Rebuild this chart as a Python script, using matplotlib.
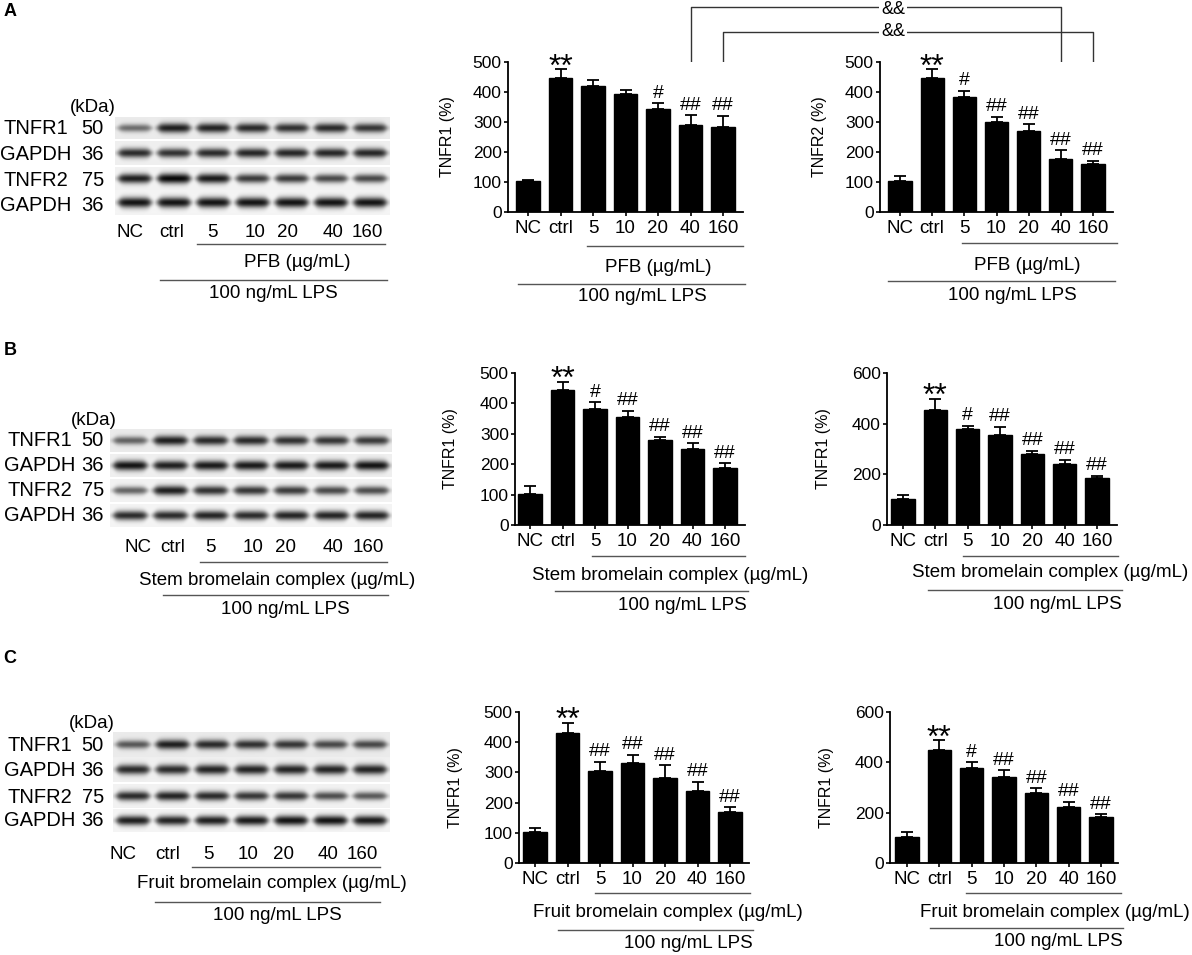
import numpy as np
import matplotlib
matplotlib.use("Agg")
import matplotlib.pyplot as plt

plt.rcParams['font.family'] = ['Liberation Sans', 'DejaVu Sans']

W, H = 1192, 955

# ---------------- data ----------------
groups = ["NC", "ctrl", "5", "10", "20", "40", "160"]

a1_mean = [103, 447, 420, 392, 342, 291, 282]
a1_err = [4, 29, 19, 16, 20, 32, 38]
a1_sig = ["", "**", "", "", "#", "##", "##"]

a2_mean = [102, 447, 384, 300, 270, 178, 160]
a2_err = [18, 29, 20, 17, 22, 27, 11]
a2_sig = ["", "**", "#", "##", "##", "##", "##"]

b1_mean = [102, 445, 381, 354, 279, 251, 189]
b1_err = [27, 25, 22, 22, 12, 18, 14]
b1_sig = ["", "**", "#", "##", "##", "##", "##"]

b2_mean = [101, 452, 378, 355, 280, 240, 185]
b2_err = [18, 46, 14, 33, 13, 17, 9]
b2_sig = ["", "**", "#", "##", "##", "##", "##"]

c1_mean = [102, 429, 304, 330, 282, 238, 170]
c1_err = [13, 36, 31, 29, 42, 31, 14]
c1_sig = ["", "**", "##", "##", "##", "##", "##"]

c2_mean = [103, 450, 376, 340, 277, 223, 182]
c2_err = [20, 38, 24, 28, 20, 21, 12]
c2_sig = ["", "**", "#", "##", "##", "##", "##"]

blot_rows = ["TNFR1", "GAPDH", "TNFR2", "GAPDH"]
blot_kda = ["50", "36", "75", "36"]

# relative band darkness read from the blots (rows x lanes)
blot_a = [[0.55, 0.90, 0.88, 0.85, 0.82, 0.85, 0.80],
          [0.85, 0.82, 0.85, 0.87, 0.87, 0.87, 0.87],
          [0.90, 1.00, 0.92, 0.78, 0.78, 0.72, 0.72],
          [0.95, 0.95, 0.95, 0.95, 0.95, 0.95, 0.95]]
blot_b = [[0.60, 0.90, 0.85, 0.85, 0.82, 0.80, 0.78],
          [0.95, 0.90, 0.92, 0.92, 0.92, 0.92, 0.95],
          [0.60, 0.90, 0.82, 0.80, 0.78, 0.72, 0.70],
          [0.85, 0.85, 0.88, 0.85, 0.88, 0.88, 0.88]]
blot_c = [[0.65, 0.90, 0.85, 0.82, 0.80, 0.72, 0.72],
          [0.85, 0.85, 0.88, 0.88, 0.88, 0.88, 0.88],
          [0.85, 0.88, 0.85, 0.80, 0.80, 0.70, 0.65],
          [0.90, 0.88, 0.90, 0.92, 0.95, 0.95, 0.92]]

treat_a = "PFB (µg/mL)"
treat_b = "Stem bromelain complex (µg/mL)"
treat_c = "Fruit bromelain complex (µg/mL)"
lps_label = "100 ng/mL LPS"

# ---------------- figure ----------------
fig = plt.figure(figsize=(W / 100, H / 100), dpi=100)
ax0 = fig.add_axes([0, 0, 1, 1])
ax0.set_zorder(0)
ax0.axis('off')

LINE_C = '#555555'


def render_strip(x0, x1, y0, y1, inten, bg):
    nx = int((x1 - x0) * 3)
    ny = int((y1 - y0) * 3)
    xs = np.linspace(x0, x1, nx)
    ys = np.linspace(y0, y1, ny)
    X, Y = np.meshgrid(xs, ys)
    step = (x1 - x0) / 7
    yc = (y0 + y1) / 2
    dark = np.zeros_like(X)
    for i, v in enumerate(inten):
        c = x0 + (i + 0.5) * step
        hw = 0.41 * step
        hprof = 1 / (1 + np.exp((np.abs(X - c) - hw) / 1.8))
        sig = (1.8 + 1.9 * v) * (0.5 + 0.5 * hprof)
        vprof = np.exp(-0.5 * ((Y - yc) / sig) ** 2)
        dark = np.maximum(dark, v * hprof * vprof)
    return bg - dark * (bg - 0.03)


def draw_blot(spec, inten):
    x0, x1 = spec['x']
    bgs = [0.92, 0.94, 0.95, 0.96]
    for r, (yt, yb) in enumerate(spec['rows']):
        img = render_strip(x0, x1, yt, yb, inten[r], bgs[r])
        ax0.imshow(img, cmap='gray', vmin=0, vmax=1, extent=(x0, x1, yb, yt),
                   aspect='auto', interpolation='bilinear', zorder=1)
        yc = spec['label_y'][r]
        ax0.text(spec['name_x'][r], yc, blot_rows[r], ha='left', va='center', fontsize=14.5)
        ax0.text(104, yc, blot_kda[r], ha='right', va='center', fontsize=14.5)
    ax0.text(spec['kda'][0], spec['kda'][1], "(kDa)", ha='right', va='center', fontsize=13.5)
    for lx, g in zip(spec['lane_x'], groups):
        ax0.text(lx, spec['lane_y'], g, ha='center', va='center', fontsize=13.5)
    ax0.plot(spec['line1'][:2], [spec['line1'][2]] * 2, color=LINE_C, lw=1)
    ax0.text(spec['treat'][0], spec['treat'][1], spec['treat_label'], ha='center', va='center', fontsize=13.5)
    ax0.plot(spec['line2'][:2], [spec['line2'][2]] * 2, color=LINE_C, lw=1)
    ax0.text(spec['lps'][0], spec['lps'][1], lps_label, ha='center', va='center', fontsize=13.5)


blot_specs = [
    dict(x=(115, 390), rows=[(117, 139), (141, 165), (167, 190), (191, 215)],
         label_y=[128, 155, 180, 205], name_x=[3, 0, 3, 0], kda=(116, 108),
         lane_x=[130, 172, 212, 255, 287, 333, 367], lane_y=232,
         line1=(197, 385, 244), treat=(297, 262), treat_label=treat_a,
         line2=(160, 387, 280), lps=(273, 293)),
    dict(x=(110, 392), rows=[(429, 452), (454, 477), (479, 502), (504, 527)],
         label_y=[440, 465, 490, 515], name_x=[7, 4, 7, 4], kda=(117, 420),
         lane_x=[138, 173, 210, 253, 285, 333, 368], lane_y=547,
         line1=(200, 387, 562), treat=(277, 580), treat_label=treat_b,
         line2=(163, 388, 595), lps=(285, 609)),
    dict(x=(113, 390), rows=[(732, 757), (758, 782), (784, 808), (809, 832)],
         label_y=[745, 770, 797, 820], name_x=[7, 4, 7, 4], kda=(115, 723),
         lane_x=[123, 168, 208, 248, 283, 328, 362], lane_y=854,
         line1=(192, 380, 867), treat=(272, 883), treat_label=treat_c,
         line2=(155, 380, 902), lps=(277, 915)),
]
for spec, inten in zip(blot_specs, [blot_a, blot_b, blot_c]):
    draw_blot(spec, inten)


def bar_chart(lay, mean, err, sig, ylabel, treat_label):
    l, r, b, t = lay['box']
    ax = fig.add_axes([l / W, 1 - b / H, (r - l) / W, (b - t) / H])
    ax.set_zorder(2)
    first, last = lay['centers']
    s = (last - first) / 6
    x = np.arange(len(groups))
    ax.bar(x, mean, width=0.72, color='black', edgecolor='black',
           yerr=[np.zeros(len(err)), err], capsize=4.5,
           error_kw=dict(elinewidth=1.3, capthick=1.3, ecolor='black'))
    ax.set_xlim(-(first - l) / s, 6 + (r - last) / s)
    ax.set_ylim(0, lay['ymax'])
    ax.set_yticks(np.arange(0, lay['ymax'] + 1, lay['ystep']))
    ax.set_xticks(x)
    ax.set_xticklabels(groups)
    for sp in ['top', 'right']:
        ax.spines[sp].set_visible(False)
    for sp in ['left', 'bottom']:
        ax.spines[sp].set_linewidth(1.3)
    ax.tick_params(axis='y', direction='out', length=3, width=1.2, pad=1.5, labelsize=12.5)
    ax.tick_params(axis='x', direction='out', length=3, width=1.2, pad=3, labelsize=13.5)
    ax.set_ylabel(ylabel, fontsize=11.5)
    ax.yaxis.set_label_coords((lay['labelx'] - l) / (r - l), 0.5)
    for i, sg in enumerate(sig):
        top = mean[i] + err[i]
        if sg == "**":
            ax.annotate(sg, (i, top), xytext=(0, -4.5), textcoords='offset points',
                        ha='center', va='baseline', fontsize=23, annotation_clip=False)
        elif sg:
            ax.annotate(sg, (i, top), xytext=(0, 4.0), textcoords='offset points',
                        ha='center', va='baseline', fontsize=14, annotation_clip=False)
    ax0.plot(lay['line1'][:2], [lay['line1'][2]] * 2, color=LINE_C, lw=1)
    ax0.text(lay['treat'][0], lay['treat'][1], treat_label, ha='center', va='center', fontsize=13.5)
    ax0.plot(lay['line2'][:2], [lay['line2'][2]] * 2, color=LINE_C, lw=1)
    ax0.text(lay['lps'][0], lay['lps'][1], lps_label, ha='center', va='center', fontsize=13.5)
    return ax


layouts = {
    'a1': dict(box=(508, 743, 212, 62), centers=(528, 723), ymax=500, ystep=100, labelx=455,
               line1=(587, 743, 246), treat=(658, 267), line2=(518, 745, 284), lps=(642, 296)),
    'a2': dict(box=(880, 1113, 212, 62), centers=(900, 1093), ymax=500, ystep=100, labelx=827,
               line1=(962, 1117, 243), treat=(1027, 265), line2=(888, 1115, 281), lps=(1012, 295)),
    'b1': dict(box=(515, 745, 525, 373), centers=(530, 725), ymax=500, ystep=100, labelx=458,
               line1=(592, 745, 556), treat=(670, 575), line2=(555, 748, 591), lps=(682, 605)),
    'b2': dict(box=(887, 1117, 525, 373), centers=(903, 1097), ymax=600, ystep=200, labelx=831,
               line1=(963, 1118, 556), treat=(1050, 572), line2=(928, 1122, 590), lps=(1057, 604)),
    'c1': dict(box=(519, 749, 863, 712), centers=(535, 730), ymax=500, ystep=100, labelx=463,
               line1=(595, 750, 893), treat=(668, 912), line2=(558, 753, 930), lps=(688, 943)),
    'c2': dict(box=(890, 1118, 863, 712), centers=(907, 1101), ymax=600, ystep=200, labelx=834,
               line1=(966, 1121, 893), treat=(1055, 912), line2=(930, 1123, 928), lps=(1058, 941)),
}

ax_a1 = bar_chart(layouts['a1'], a1_mean, a1_err, a1_sig, "TNFR1 (%)", treat_a)
ax_a2 = bar_chart(layouts['a2'], a2_mean, a2_err, a2_sig, "TNFR2 (%)", treat_a)
ax_b1 = bar_chart(layouts['b1'], b1_mean, b1_err, b1_sig, "TNFR1 (%)", treat_b)
ax_b2 = bar_chart(layouts['b2'], b2_mean, b2_err, b2_sig, "TNFR1 (%)", treat_b)
ax_c1 = bar_chart(layouts['c1'], c1_mean, c1_err, c1_sig, "TNFR1 (%)", treat_c)
ax_c2 = bar_chart(layouts['c2'], c2_mean, c2_err, c2_sig, "TNFR1 (%)", treat_c)

ax0.set_xlim(0, W)
ax0.set_ylim(H, 0)


def px_x(ax, i):
    disp = ax.transData.transform((i, 0))
    return ax0.transData.inverted().transform(disp)[0]


# comparison brackets between the two panel-A charts
BR_C = '#333333'
for idx, ytop, yl, yr, ytxt in [(5, 7, 98, 123, 10), (6, 32, 88, 133, 32)]:
    xl = px_x(ax_a1, idx)
    xr = px_x(ax_a2, idx)
    ax0.plot([xl, xl, xr, xr], [yl, ytop, ytop, yr], color=BR_C, lw=1, zorder=3)
    ax0.text(893, ytxt, "&&", ha='center', va='center', fontsize=13, zorder=4,
             bbox=dict(facecolor='white', edgecolor='none', pad=1.5))

for lbl, (lx, ly) in zip(["A", "B", "C"], [(10, 11), (10, 350), (10, 658)]):
    ax0.text(lx, ly, lbl, ha='center', va='center', fontsize=13, fontweight='bold')

fig.savefig("out.png", dpi=100)
